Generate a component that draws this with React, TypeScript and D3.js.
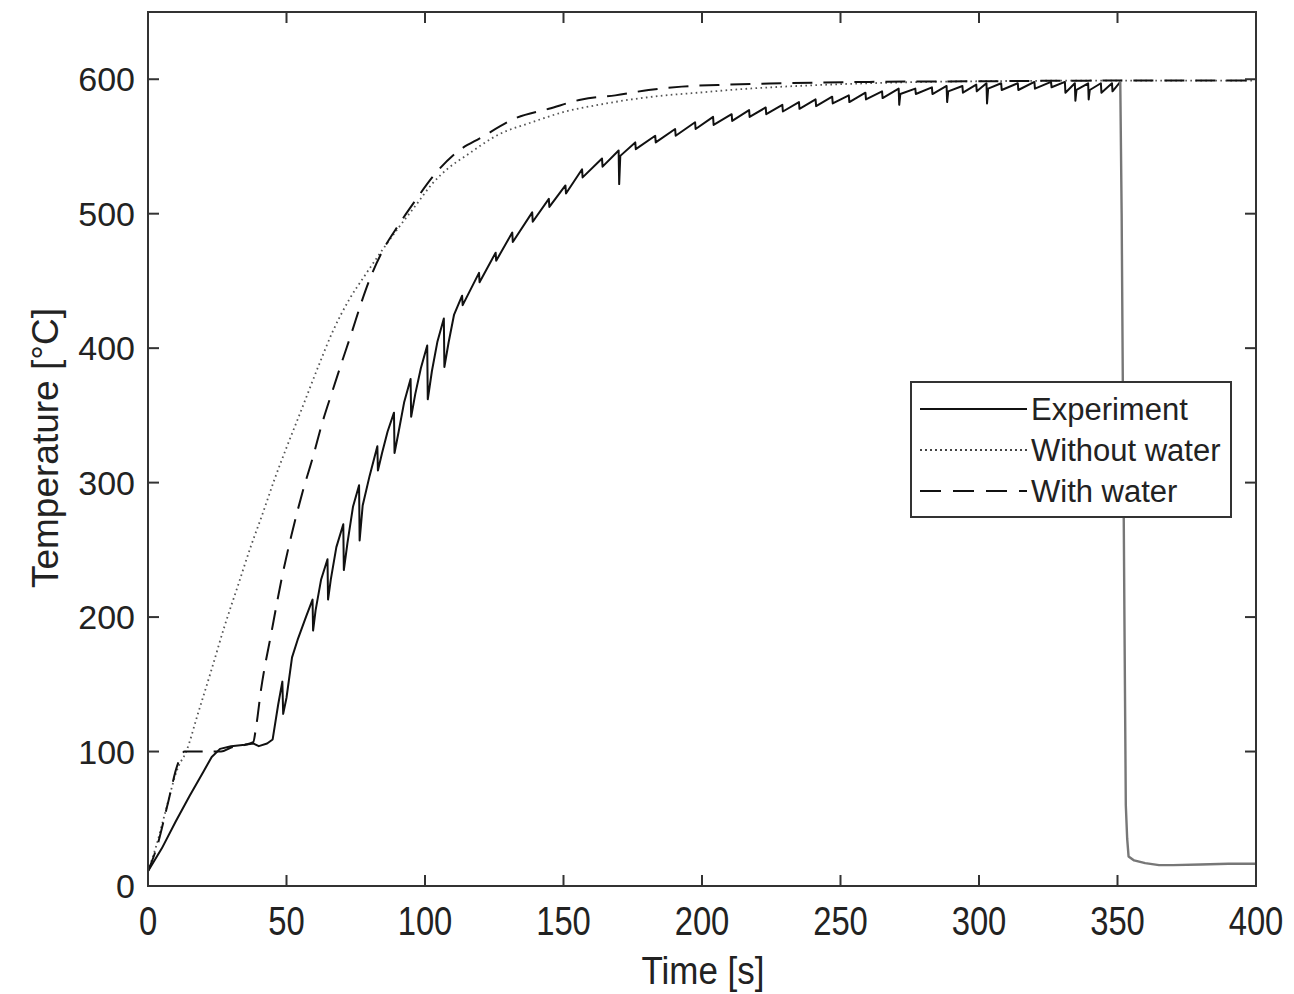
import React from "react";
import * as d3 from "d3";

type P = [number, number];

// Experiment (time s, temperature °C)
const experiment: P[] = [
  [0, 11], [5, 28], [10, 48], [15, 67], [20, 85], [23, 96], [26, 102], [30, 104], [35, 105],
  [38, 106], [40, 104], [43, 106], [45, 109], [47, 135], [48.5, 152], [48.8, 128], [50, 140],
  [52, 170], [54, 183], [57, 200], [59.4, 213], [59.6, 190], [60.5, 205], [62.5, 228],
  [64.8, 243], [65, 213], [66, 228], [68, 252], [70.5, 269], [70.7, 235], [72, 255], [74, 282],
  [76.2, 298], [76.4, 257], [77.5, 283], [80, 305], [82.8, 327], [83, 309], [84.5, 322],
  [86.5, 338], [88.8, 352], [89, 322], [90.5, 338], [92.5, 360], [94.8, 377], [95, 349],
  [96.5, 366], [98.5, 385], [100.8, 402], [101, 362], [102.5, 383], [104.5, 405], [106.8, 422],
  [107, 386], [108.5, 404], [110.5, 425], [113.4, 439], [113.6, 432], [119.5, 456], [119.7, 449],
  [125.5, 471], [125.7, 465], [131.5, 486], [131.7, 479], [138.7, 501], [138.9, 494],
  [144.7, 511], [144.9, 505], [150.7, 521], [150.9, 515], [156.7, 533], [156.9, 527],
  [163.9, 541], [164.1, 535], [169.9, 547], [170.1, 522], [170.5, 543], [175.9, 553], [176.1, 548],
  [183.1, 558], [183.3, 553], [190.3, 563], [190.5, 558], [197.5, 568], [197.7, 563],
  [204, 572], [204.2, 566], [210.7, 574], [210.9, 569], [217, 577], [217.2, 572], [223, 579],
  [223.2, 574], [229, 581], [229.2, 576], [235, 583], [235.2, 578], [241, 585], [241.2, 580],
  [247, 587], [247.2, 582], [253, 588], [253.2, 583], [259, 590], [259.2, 585], [265, 591],
  [265.2, 586], [271, 593], [271.2, 581], [271.6, 589], [277, 593], [277.2, 589], [283, 594],
  [283.2, 589], [288.3, 595], [288.5, 583], [288.9, 591], [294, 595], [294.2, 590], [299, 596],
  [299.2, 591], [302.7, 597], [302.9, 582], [303.3, 593], [308, 597], [308.2, 592], [314, 597],
  [314.2, 592], [320, 598], [320.2, 593], [326, 598], [326.2, 594], [331, 598], [331.2, 590],
  [334.6, 597], [334.8, 584], [335.2, 592], [339.4, 597], [339.6, 585], [340, 592], [344, 597],
  [344.2, 590], [348, 597], [348.2, 591], [351, 598],
];

// Cooling after the furnace is opened
const experimentCooling: P[] = [
  [351, 598], [351.5, 500], [352, 350], [352.5, 200], [353, 60], [353.5, 35], [354, 22],
  [356, 19], [360, 17], [365, 15.5], [370, 15.5], [380, 16], [390, 16.5], [400, 16.5],
];

const withoutWater: P[] = [
  [0, 11], [3, 30], [6, 53], [10.8, 88], [13.8, 100], [18, 128], [22.8, 160], [27.6, 193],
  [32.4, 223], [37.2, 253], [41.4, 277], [45.6, 302], [50, 326], [54.6, 350], [61.8, 388],
  [66.6, 412], [72.6, 436], [78.6, 455], [84.6, 473], [90.6, 490], [96.6, 506], [102.5, 522],
  [108.5, 534], [114.7, 543], [126.7, 559], [138.6, 568], [150.7, 576], [162.7, 581],
  [174.6, 585], [186.7, 588], [198.7, 590], [210, 592], [225, 594], [240, 595.5], [260, 597],
  [280, 598], [300, 598.5], [350, 599], [400, 599],
];

const withWater: P[] = [
  [0, 11], [3.5, 31], [7, 60], [10.8, 91], [13.2, 100], [20, 100], [26.4, 100], [30, 103],
  [35, 105], [38, 107], [39, 118], [40.8, 146], [44.6, 189], [48.2, 228], [51.8, 261],
  [55.8, 293], [59.4, 318], [63, 345], [66.4, 367], [70.2, 391], [73.6, 412], [77.2, 435],
  [80, 451], [84.6, 472], [90.6, 492], [96.6, 510], [102.6, 527], [111, 545], [120.6, 557],
  [132.7, 571], [144.7, 578], [156.6, 585], [168.7, 588], [180.7, 592], [192.7, 594.5],
  [210, 596], [230, 597], [260, 598], [300, 598.5], [350, 599], [400, 599],
];

const xTicks = [0, 50, 100, 150, 200, 250, 300, 350, 400];
const yTicks = [0, 100, 200, 300, 400, 500, 600];
const legendLabels = ["Experiment", "Without water", "With water"];

const W = 1294;
const H = 994;
const L = 148, R = 1256, T = 12, B = 886;

export default function App() {
  const x = d3.scaleLinear().domain([0, 400]).range([L, R]);
  const y = d3.scaleLinear().domain([0, 650]).range([B, T]);
  const lin = d3.line<P>().x((d) => x(d[0])).y((d) => y(d[1]));
  const smooth = d3
    .line<P>()
    .x((d) => x(d[0]))
    .y((d) => y(d[1]))
    .curve(d3.curveMonotoneX);

  const tickLen = 11;
  const font = "'Liberation Sans', Arial, Helvetica, sans-serif";
  const txt = "#222";

  const legendY = [409, 450, 491];
  const styles = [
    { stroke: "#111", dash: undefined as string | undefined, w: 2 },
    { stroke: "#444", dash: "2,3", w: 1.8 },
    { stroke: "#111", dash: "21,12", w: 2 },
  ];

  return (
    <svg
      width={W}
      height={H}
      style={{ position: "absolute", left: 0, top: 0, background: "#fff" }}
      fontFamily={font}
    >
      <rect x={0} y={0} width={W} height={H} fill="#fff" />
      <defs>
        <clipPath id="plot">
          <rect x={L} y={T} width={R - L} height={B - T} />
        </clipPath>
      </defs>

      <g clipPath="url(#plot)" fill="none" strokeLinejoin="round">
        <path d={smooth(withoutWater) || ""} stroke="#555" strokeWidth={1.8} strokeDasharray="1.6,3.4" />
        <path d={smooth(withWater) || ""} stroke="#111" strokeWidth={2} strokeDasharray="20,11" />
        <path d={lin(experiment) || ""} stroke="#111" strokeWidth={2} />
        <path d={lin(experimentCooling) || ""} stroke="#777" strokeWidth={2.4} />
      </g>

      {/* frame */}
      <rect x={L} y={T} width={R - L} height={B - T} fill="none" stroke="#333" strokeWidth={2} />

      {/* ticks */}
      {xTicks.map((t) => (
        <g key={"xt" + t} stroke="#333" strokeWidth={2}>
          <line x1={x(t)} x2={x(t)} y1={B} y2={B - tickLen} />
          <line x1={x(t)} x2={x(t)} y1={T} y2={T + tickLen} />
        </g>
      ))}
      {yTicks.map((t) => (
        <g key={"yt" + t} stroke="#333" strokeWidth={2}>
          <line x1={L} x2={L + tickLen} y1={y(t)} y2={y(t)} />
          <line x1={R} x2={R - tickLen} y1={y(t)} y2={y(t)} />
        </g>
      ))}

      {/* x tick labels */}
      {xTicks.map((t) => (
        <text
          key={"xl" + t}
          transform={`translate(${x(t)},935) scale(0.8,1)`}
          textAnchor="middle"
          fontSize={41}
          fill={txt}
        >
          {t}
        </text>
      ))}
      {/* y tick labels */}
      {yTicks.map((t) => (
        <text
          key={"yl" + t}
          x={135}
          y={y(t) + 12}
          textAnchor="end"
          fontSize={34}
          fill={txt}
        >
          {t}
        </text>
      ))}

      {/* axis titles */}
      <text
        transform={`translate(703,984) scale(0.92,1)`}
        textAnchor="middle"
        fontSize={38}
        fill={txt}
      >
        Time [s]
      </text>
      <text
        transform={`translate(58,448) rotate(-90)`}
        textAnchor="middle"
        fontSize={37}
        fill={txt}
      >
        Temperature [°C]
      </text>

      {/* legend */}
      <rect x={911} y={382} width={320} height={135} fill="#fff" stroke="#333" strokeWidth={2} />
      {legendLabels.map((lab, i) => (
        <g key={lab}>
          <line
            x1={920}
            x2={1027}
            y1={legendY[i]}
            y2={legendY[i]}
            stroke={styles[i].stroke}
            strokeWidth={styles[i].w}
            strokeDasharray={styles[i].dash}
          />
          <text x={1031} y={legendY[i] + 11} fontSize={31} fill={txt}>
            {lab}
          </text>
        </g>
      ))}
    </svg>
  );
}
